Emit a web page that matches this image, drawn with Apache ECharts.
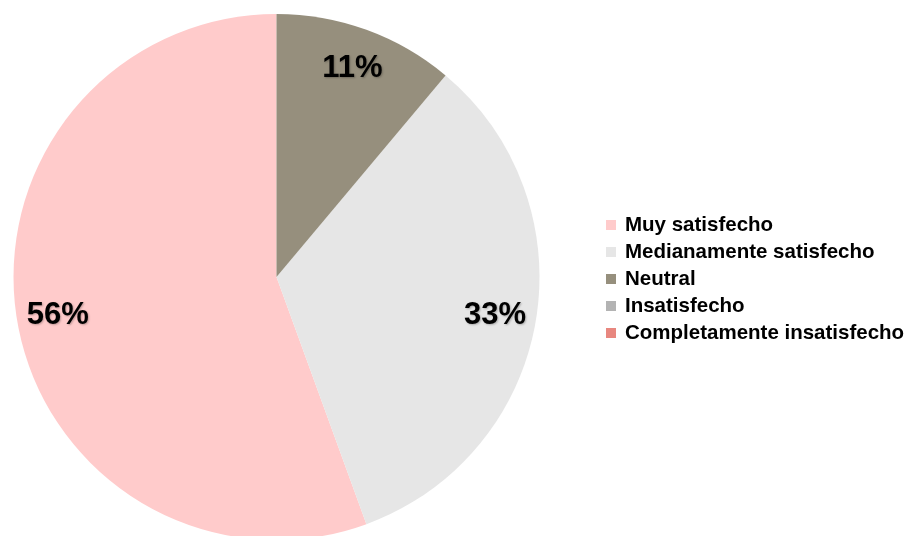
<!DOCTYPE html>
<html>
<head>
<meta charset="utf-8">
<style>
  html, body { margin: 0; padding: 0; background: #ffffff; }
  #chart { width: 913px; height: 536px; }
</style>
<script src="https://cdn.jsdelivr.net/npm/echarts@6/dist/echarts.min.js"></script>
</head>
<body>
<div id="chart"></div>
<script>
// Survey answers: level of satisfaction
const categories = [
  'Muy satisfecho',
  'Medianamente satisfecho',
  'Neutral',
  'Insatisfecho',
  'Completamente insatisfecho'
];
const counts = [5, 3, 1, 0, 0];
const colors = ['#ffcbcb', '#e6e6e6', '#968f7d', '#b3b3b3', '#e8877f'];

const FONT = '"Liberation Sans", Arial, sans-serif';
const CENTER = [276.5, 277];
const RADIUS = 263;

const sliceData = categories.map((name, i) => ({
  name: name,
  value: counts[i],
  itemStyle: { color: colors[i] }
}));

// Same slices again, transparent, as an outer ring that carries the percentage labels
const labelData = categories.map((name, i) => ({
  name: name,
  value: counts[i],
  itemStyle: { color: 'rgba(0,0,0,0)' }
}));

const chart = echarts.init(document.getElementById('chart'), null, { renderer: 'canvas' });

chart.setOption({
  animation: false,
  backgroundColor: '#ffffff',
  legend: {
    orient: 'vertical',
    left: 606,
    top: 214.5,
    padding: 0,
    itemWidth: 10,
    itemHeight: 10,
    itemGap: 6,
    icon: 'rect',
    data: categories,
    selectedMode: false,
    textStyle: {
      fontFamily: FONT,
      fontWeight: 'bold',
      fontSize: 20.5,
      lineHeight: 20,
      color: '#000000',
      padding: [0, 0, 0, 4]
    }
  },
  series: [
    {
      type: 'pie',
      center: CENTER,
      radius: [0, RADIUS],
      clockwise: false,
      startAngle: 90,
      silent: true,
      label: { show: false },
      labelLine: { show: false },
      itemStyle: { borderWidth: 0 },
      data: sliceData
    },
    {
      type: 'pie',
      center: CENTER,
      radius: [175, RADIUS],
      clockwise: false,
      startAngle: 90,
      silent: true,
      legendHoverLink: false,
      labelLine: { show: false },
      itemStyle: { borderWidth: 0 },
      label: {
        show: true,
        position: 'inside',
        fontFamily: FONT,
        fontWeight: 'bold',
        fontSize: 31,
        color: '#000000',
        textShadowColor: 'rgba(0,0,0,0.25)',
        textShadowBlur: 2,
        textShadowOffsetX: 1,
        textShadowOffsetY: 1,
        formatter: p => p.value > 0 ? Math.round(p.percent) + '%' : ''
      },
      data: labelData
    }
  ]
});
</script>
</body>
</html>
